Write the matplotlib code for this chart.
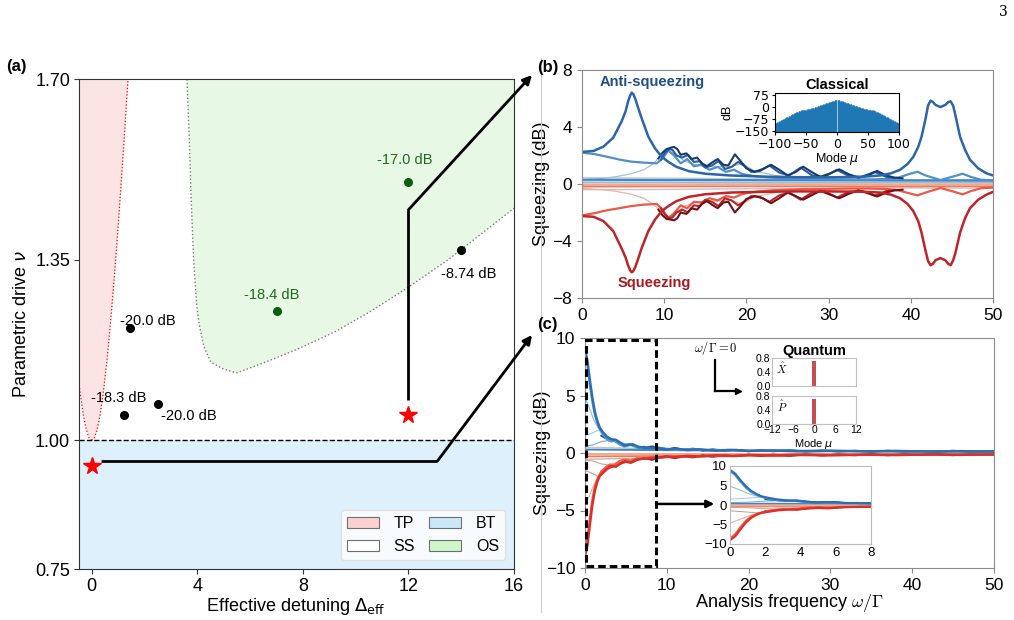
import matplotlib
matplotlib.use('Agg')
import matplotlib.pyplot as plt
from matplotlib.patches import Patch, Rectangle
from matplotlib.lines import Line2D

plt.rcParams['font.family'] = ['Liberation Sans', 'DejaVu Sans']
plt.rcParams['mathtext.fontset'] = 'dejavusans'

# ---------------- data: panel (a) ----------------
tp_nu = [1.00, 1.005, 1.02, 1.05, 1.10, 1.15, 1.20, 1.30, 1.40, 1.50, 1.60, 1.70]
tp_right = [0.0, 0.100, 0.201, 0.320, 0.458, 0.568, 0.663, 0.831, 0.980, 1.118, 1.249, 1.375]
tp_left = [0.0, -0.100, -0.201, -0.320, -0.458, -0.568, -0.663, -0.831, -0.980, -1.118, -1.249, -1.375]

os_x = [3.61, 3.70, 3.77, 3.86, 3.98, 4.09, 4.25, 4.51, 5.00, 5.51, 6.50, 7.76, 9.20, 10.50, 11.97, 13.50, 15.00, 16.00]
os_nu = [1.70, 1.58, 1.466, 1.351, 1.26, 1.220, 1.182, 1.152, 1.138, 1.131, 1.150, 1.176, 1.21, 1.248, 1.296, 1.35, 1.41, 1.45]

black_x = [1.46, 1.21, 2.52, 13.99]
black_nu = [1.218, 1.050, 1.070, 1.370]
black_lbl = ['-20.0 dB', '-18.3 dB', '-20.0 dB', '-8.74 dB']
black_lbl_x = [2.12, 1.04, 3.69, 14.27]
black_lbl_nu = [1.232, 1.082, 1.047, 1.322]

green_x = [7.01, 12.0]
green_nu = [1.250, 1.500]
green_lbl = ['-18.4 dB', '-17.0 dB']
green_lbl_x = [6.82, 11.87]
green_lbl_nu = [1.282, 1.544]

star_x = [0.0, 12.0]
star_nu = [0.950, 1.050]

conn_b_x = [12.0, 12.0]
conn_b_nu = [1.078, 1.447]
conn_c_x = [0.34, 13.1]
conn_c_nu = [0.960, 0.960]

# ---------------- data: panel (b) ----------------
b_anti_x = [0, 1.4, 2.6, 3.8, 4.8, 5.3, 5.6, 5.85, 6.05, 6.25, 6.5, 6.8, 7.26, 8.07, 8.88, 9.7, 10.5, 11.5, 13, 15,
            18, 22, 26, 30, 34, 36.3, 37.6, 38.7, 39.6, 40.3, 40.9, 41.3, 41.8, 42.1, 42.4, 42.7, 43.0, 43.6, 44.2,
            44.55, 44.85, 45.15, 45.4, 46.0, 46.6, 47.2, 48.2, 49.2, 50]
b_anti_y = [2.25, 2.32, 2.62, 3.25, 4.37, 5.1, 5.78, 6.2, 6.41, 6.3, 5.95, 5.4, 4.61, 3.32, 2.5, 1.92, 1.55, 1.2, 0.9,
            0.72, 0.6, 0.52, 0.48, 0.47, 0.5, 0.6, 0.75, 1.0, 1.4, 1.9, 2.6, 3.3, 4.6, 5.5, 5.85, 5.75, 5.55, 5.4,
            5.55, 5.75, 5.8, 5.5, 4.9, 3.3, 2.4, 1.7, 1.1, 0.75, 0.6]
b_sq_y = [-2.25, -2.3, -2.6, -3.3, -4.5, -5.15, -5.7, -6.05, -6.2, -6.1, -5.8, -5.3, -4.5, -3.3, -2.5, -1.9, -1.55,
          -1.2, -0.9, -0.72, -0.6, -0.55, -0.52, -0.52, -0.54, -0.6, -0.75, -1.0, -1.4, -1.9, -2.6, -3.4, -4.7, -5.4,
          -5.7, -5.6, -5.35, -5.2, -5.35, -5.6, -5.7, -5.35, -4.9, -3.4, -2.4, -1.7, -1.1, -0.75, -0.55]

b_anti2_x = [0, 1.5, 3, 4.5, 6, 7.5, 9.1, 9.8, 10.5, 11.2, 12.0, 12.8, 13.6, 14.5, 15.5, 16.5, 17.5, 18.5, 19.5, 21,
             23, 25, 27, 29, 31, 33, 35, 37, 38.5, 39.8, 40.8, 41.8, 43.6, 45.3, 46.3, 47.3, 48.5, 50]
b_anti2_y = [2.2, 2.1, 1.92, 1.72, 1.57, 1.5, 1.45, 1.8, 2.35, 2.0, 1.45, 1.75, 1.25, 1.35, 1.0, 1.2, 0.85, 1.0, 0.7,
             0.55, 0.45, 0.4, 0.36, 0.35, 0.33, 0.32, 0.32, 0.35, 0.45, 0.7, 0.86, 0.6, 0.28, 0.55, 0.72, 0.5, 0.3, 0.25]
b_sq2_y = [-2.2, -2.05, -1.85, -1.7, -1.55, -1.45, -1.4, -1.8, -2.4, -2.05, -1.5, -1.7, -1.25, -1.3, -1.0, -1.15,
           -0.85, -0.95, -0.7, -0.55, -0.45, -0.4, -0.36, -0.35, -0.33, -0.32, -0.32, -0.35, -0.45, -0.65, -0.8, -0.6,
           -0.28, -0.55, -0.73, -0.5, -0.3, -0.25]

b_anti3_x = [9.3, 9.8, 10.3, 10.8, 11.2, 11.6, 12.0, 12.7, 13.3, 14.0, 14.6, 15.2, 15.8, 16.5, 17.2, 17.8, 18.6, 19.3,
             20.0, 21.0, 22.0, 23.0, 24.0, 25.0, 26.0, 26.9, 27.9, 29.0, 30.2, 31.3, 32.4, 33.6, 34.8, 35.9, 37.0,
             38.0, 39.0]
b_anti3_y = [1.8, 2.2, 2.45, 2.55, 2.6, 2.45, 2.05, 2.15, 1.75, 1.85, 1.45, 1.25, 1.5, 1.75, 1.35, 1.3, 2.08, 1.6,
             1.1, 0.85, 1.05, 1.35, 1.0, 0.6, 0.85, 1.22, 0.85, 0.5, 0.75, 1.03, 0.7, 0.45, 0.6, 0.92, 0.6, 0.45, 0.4]
b_sq3_y = [-1.8, -2.2, -2.45, -2.5, -2.55, -2.4, -2.0, -2.1, -1.7, -1.8, -1.4, -1.2, -1.45, -1.7, -1.3, -1.25, -2.0,
           -1.55, -1.05, -0.85, -1.0, -1.35, -1.0, -0.6, -0.85, -1.1, -0.8, -0.48, -0.75, -1.0, -0.7, -0.45, -0.6,
           -0.88, -0.6, -0.45, -0.4]

b_anti4_x = [9.6, 10.1, 10.6, 11.0, 11.5, 12.2, 12.9, 13.6, 14.3, 15.0, 15.8, 16.6, 17.4, 18.2, 19.0, 19.8, 20.6,
             21.6, 22.8, 24.0, 25.2, 26.6, 28.0, 29.5, 31.0, 32.5, 34.0, 35.6, 37.0, 38.0]
b_anti4_y = [1.7, 2.2, 2.45, 2.4, 2.0, 1.85, 2.05, 1.55, 1.6, 1.15, 1.3, 1.6, 1.05, 1.2, 1.55, 1.25, 0.85, 0.9, 1.3,
             0.8, 0.6, 1.15, 0.6, 0.5, 1.0, 0.55, 0.5, 0.85, 0.5, 0.42]
b_sq4_y = [-1.7, -2.15, -2.4, -2.35, -2.0, -1.8, -2.0, -1.5, -1.55, -1.1, -1.25, -1.55, -1.0, -1.15, -1.5, -1.2,
           -0.85, -0.9, -1.25, -0.8, -0.6, -1.1, -0.6, -0.5, -0.95, -0.55, -0.5, -0.82, -0.5, -0.42]

b_anti5_x = [0, 2, 4, 6, 7.5, 8.5, 9.5, 10.5, 11.5, 12.5, 14, 16, 18, 19.5, 21, 24, 28, 35, 50]
b_anti5_y = [0.3, 0.38, 0.5, 0.72, 1.0, 1.35, 1.9, 2.35, 2.05, 1.6, 1.3, 1.25, 1.2, 1.45, 0.9, 0.55, 0.35, 0.25, 0.18]
b_sq5_y = [-0.3, -0.38, -0.5, -0.72, -1.0, -1.35, -1.85, -2.3, -2.0, -1.55, -1.25, -1.2, -1.15, -1.4, -0.9, -0.55,
           -0.35, -0.25, -0.18]

b_flat_x = [0, 10, 20, 30, 40, 50]
b_anti_flat1 = [0.3, 0.28, 0.27, 0.26, 0.25, 0.25]
b_anti_flat2 = [0.12, 0.11, 0.1, 0.1, 0.1, 0.1]
b_grey_flat1 = [0.45, 0.42, 0.36, 0.32, 0.3, 0.3]
b_sq_flat1 = [-0.05, -0.05, -0.04, -0.04, -0.04, -0.04]
b_sq_flat2 = [-0.18, -0.17, -0.16, -0.15, -0.15, -0.15]
b_grey_flat2 = [-0.4, -0.38, -0.33, -0.3, -0.28, -0.28]

# classical inset (mode spectrum, dB)
cl_modes_neg = list(range(-100, 0))
cl_vals_neg = [-106, -103, -101, -99, -97, -95, -93, -91, -89, -87,
               -85, -83, -80, -78, -76, -74, -72, -70, -67, -65,
               -63, -61, -59, -57, -55, -53, -51, -49, -47, -45,
               -43, -41, -39, -37, -35, -33, -31, -30, -28, -26,
               -70, -24, -23, -23, -22, -22, -21, -21, -20, -20,
               -19, -18, -17, -16, -15, -14, -13, -12, -11, -10,
               -40, -8, -7, -5, -4, -3, -1, 0, 1, 3,
               4, 5, 7, 8, 9, 11, 12, 13, 15, 16,
               17, 19, 20, 21, 23, 24, 25, 27, 28, 29,
               31, 32, 33, 35, 36, 37, 39, 40, 42, 44]
cl_modes_pos = list(range(1, 101))
cl_vals_pos = [44, 42, 41, 39, 38, 37, 35, 34, 33, 31,
               30, 29, 27, 26, 25, 23, 22, 21, 19, 18,
               17, 15, 14, 13, 11, 10, 9, 7, 6, 5,
               3, 2, 1, 0, -2, -3, -4, -40, -7, -8,
               -9, -11, -12, -13, -14, -15, -16, -17, -18, -19,
               -20, -20, -21, -21, -22, -60, -22, -23, -23, -24,
               -26, -28, -30, -31, -33, -35, -37, -39, -41, -43,
               -45, -47, -49, -51, -53, -55, -57, -59, -61, -63,
               -65, -67, -70, -72, -74, -76, -78, -80, -83, -85,
               -87, -89, -91, -93, -95, -97, -99, -101, -103, -106]
cl_floor = -157

# ---------------- data: panel (c) ----------------
c_anti1_x = [0, 0.3, 0.6, 0.9, 1.2, 1.5, 1.8, 2.2, 2.7, 3.2, 3.7, 4.2, 4.8, 5.4, 6.0, 6.6, 7.2, 8.0, 9.0, 10, 11,
             12.5, 14, 16, 18, 20, 23, 26, 30, 34, 38, 42, 46, 50]
c_anti1_y = [9.0, 8.0, 6.3, 4.8, 3.6, 2.8, 2.2, 1.8, 1.4, 1.2, 1.15, 0.95, 0.65, 0.75, 0.7, 0.5, 0.5, 0.4, 0.45, 0.3,
             0.38, 0.25, 0.32, 0.2, 0.27, 0.18, 0.22, 0.15, 0.2, 0.14, 0.18, 0.12, 0.16, 0.12]
c_sq1_x = [0, 0.3, 0.6, 0.9, 1.2, 1.5, 1.8, 2.2, 2.7, 3.2, 3.8, 4.4, 5.0, 5.6, 6.2, 7.0, 8.0, 9.0, 10, 11, 12.5, 14,
           16, 18, 20, 23, 26, 30, 34, 38, 42, 46, 50]
c_sq1_y = [-9.0, -8.0, -6.2, -4.5, -3.3, -2.5, -2.0, -1.7, -1.35, -1.2, -1.15, -0.9, -0.75, -0.85, -0.6, -0.5, -0.45,
           -0.4, -0.3, -0.36, -0.25, -0.3, -0.2, -0.26, -0.18, -0.22, -0.15, -0.2, -0.14, -0.18, -0.12, -0.16, -0.12]

c_anti2_x = [0, 0.3, 0.6, 0.9, 1.2, 1.6, 2.0, 2.5, 3.0, 3.6, 4.2, 4.8, 5.6, 6.4, 7.2, 8.0, 9.5, 11, 13, 15, 17.5, 20,
             24, 28, 33, 38, 44, 50]
c_anti2_y = [8.7, 7.6, 5.9, 4.4, 3.3, 2.4, 1.8, 1.35, 1.05, 1.05, 0.75, 0.55, 0.7, 0.45, 0.55, 0.35, 0.42, 0.28, 0.33,
             0.22, 0.28, 0.18, 0.22, 0.15, 0.18, 0.13, 0.15, 0.12]
c_sq2_y = [-8.6, -7.4, -5.6, -4.0, -2.9, -2.1, -1.6, -1.25, -1.0, -1.0, -0.7, -0.55, -0.65, -0.45, -0.5, -0.35, -0.4,
           -0.28, -0.3, -0.22, -0.26, -0.18, -0.2, -0.15, -0.17, -0.13, -0.14, -0.12]

c_anti3_x = [2.0, 2.6, 3.2, 3.8, 4.4, 5.0, 5.8, 6.6, 7.4, 8.2, 9.0, 10.0, 11.0, 12.0, 13.2, 14.4, 15.6, 17, 18.5, 20,
             21.5, 23, 25, 27, 29, 31, 33, 35, 37, 39, 41, 43, 45, 47, 50]
c_anti3_y = [1.5, 1.25, 1.0, 1.15, 0.8, 0.62, 0.78, 0.5, 0.45, 0.58, 0.38, 0.3, 0.45, 0.28, 0.38, 0.2, 0.32, 0.2,
             0.28, 0.15, 0.25, 0.15, 0.25, 0.12, 0.22, 0.12, 0.2, 0.1, 0.2, 0.1, 0.18, 0.1, 0.2, 0.1, 0.15]
c_sq3_y = [-1.6, -1.3, -1.05, -1.2, -0.85, -0.65, -0.8, -0.52, -0.45, -0.6, -0.38, -0.3, -0.45, -0.28, -0.38, -0.2,
           -0.32, -0.2, -0.28, -0.15, -0.25, -0.15, -0.25, -0.12, -0.22, -0.12, -0.2, -0.1, -0.2, -0.1, -0.18, -0.1,
           -0.2, -0.1, -0.15]

c_thin1_x = [0, 0.5, 1.0, 1.5, 2.0, 3.0, 4.0, 6.0, 8.0, 12, 20, 35, 50]
c_anti4_y = [4.8, 4.0, 3.0, 2.3, 1.8, 1.2, 0.9, 0.6, 0.4, 0.3, 0.2, 0.15, 0.12]
c_sq4_y = [-4.6, -3.8, -2.9, -2.2, -1.75, -1.15, -0.85, -0.55, -0.4, -0.3, -0.2, -0.15, -0.12]
c_thin2_x = [0, 0.8, 1.5, 2.0, 2.8, 3.5, 5, 8, 15, 30, 50]
c_anti5_y = [1.5, 1.7, 1.95, 1.9, 1.4, 1.0, 0.7, 0.4, 0.25, 0.15, 0.1]
c_sq5_y = [-1.5, -1.75, -2.0, -1.95, -1.45, -1.05, -0.7, -0.4, -0.25, -0.15, -0.1]
c_thin3_x = [0, 1, 2, 3, 4, 5, 7, 10, 20, 50]
c_anti6_y = [0.6, 0.7, 1.0, 1.1, 1.0, 0.8, 0.55, 0.35, 0.2, 0.1]
c_sq6_y = [-0.6, -0.7, -0.95, -1.05, -0.95, -0.8, -0.55, -0.35, -0.2, -0.1]

c_flat_x = [0, 10, 20, 30, 40, 50]
c_anti_flat = [0.3, 0.25, 0.2, 0.18, 0.16, 0.15]
c_grey_flat = [0.5, 0.35, 0.25, 0.2, 0.18, 0.18]
c_sq_flat1 = [-0.1, -0.1, -0.08, -0.08, -0.08, -0.08]
c_sq_flat2 = [-0.3, -0.25, -0.2, -0.18, -0.16, -0.15]
c_grey_flat2 = [-0.55, -0.4, -0.28, -0.22, -0.2, -0.2]

# quantum inset
q_modes = [0]
q_x_vals = [0.72]
q_p_vals = [0.72]

# zoom box in (c)
zoom_box_x0, zoom_box_y0, zoom_box_w, zoom_box_h = 0.1, -9.85, 8.6, 19.7
zoom_arrow_x = [8.9, 15.8]
zoom_arrow_y = [-4.43, -4.43]

# ---------------- figure ----------------
W, H = 1014, 620


def fx(px):
    return px / W


def fy(py):
    return 1 - py / H


fig = plt.figure(figsize=(W / 100, H / 100), dpi=100)

# ===== panel (a) =====
ax = fig.add_axes([fx(78.5), fy(569.3), 435.5 / W, 490 / H])
ax.set_xlim(-0.5, 16)
ax.set_ylim(0.75, 1.70)
ax.axhspan(0.75, 1.0, color='#ddf0fb', lw=0, zorder=0)
ax.fill_betweenx(tp_nu, tp_left, tp_right, color='#fde4e4', lw=0, zorder=0)
ax.plot(tp_right, tp_nu, ':', color='red', lw=0.9, zorder=1)
ax.plot(tp_left, tp_nu, ':', color='red', lw=0.9, zorder=1)
ax.fill(os_x + [16.0], os_nu + [1.70], color='#e7f9e5', lw=0, zorder=0)
ax.plot(os_x, os_nu, ':', color='#7a7a7a', lw=1.0, zorder=1)
ax.axhline(1.0, color='k', ls='--', lw=1.0, zorder=2)

ax.plot(black_x, black_nu, 'o', color='k', ms=5.5, zorder=4)
for t, x, y in zip(black_lbl, black_lbl_x, black_lbl_nu):
    ax.text(x, y, t, ha='center', va='center', fontsize=10.5, color='k')
ax.plot(green_x, green_nu, 'o', color='#0d5e0d', ms=5.5, zorder=4)
for t, x, y in zip(green_lbl, green_lbl_x, green_lbl_nu):
    ax.text(x, y, t, ha='center', va='center', fontsize=10.5, color='#1d6b1d')

ax.plot(conn_b_x, conn_b_nu, color='k', lw=2, zorder=5, solid_capstyle='butt')
ax.plot(conn_c_x, conn_c_nu, color='k', lw=2, zorder=5, solid_capstyle='butt')
ax.annotate('', xy=(fx(532), fy(75)), xycoords='figure fraction',
            xytext=(conn_b_x[-1], conn_b_nu[-1]), textcoords='data',
            arrowprops=dict(arrowstyle='-|>', color='k', lw=2, mutation_scale=13,
                            shrinkA=0, shrinkB=0), annotation_clip=False, zorder=5)
ax.annotate('', xy=(fx(532), fy(335)), xycoords='figure fraction',
            xytext=(conn_c_x[-1], conn_c_nu[-1]), textcoords='data',
            arrowprops=dict(arrowstyle='-|>', color='k', lw=2, mutation_scale=13,
                            shrinkA=0, shrinkB=0), annotation_clip=False, zorder=5)
ax.plot(star_x, star_nu, '*', color='red', ms=13, clip_on=False, zorder=6)

ax.set_xticks([0, 4, 8, 12, 16])
ax.set_yticks([0.75, 1.00, 1.35, 1.70])
ax.set_yticklabels(['0.75', '1.00', '1.35', '1.70'])
ax.tick_params(labelsize=13, length=3.5, pad=2.5, color='#333333')
for s in ax.spines.values():
    s.set_color('#333333')
ax.set_xlabel(r'Effective detuning $\Delta_{\rm eff}$', fontsize=13)
ax.xaxis.set_label_coords(0.5, -0.055)
ax.set_ylabel(r'Parametric drive $\nu$', fontsize=13)
ax.yaxis.set_label_coords(-0.112, 0.5)

leg_handles = [Patch(fc='#fcd0d0', ec='#6f6f6f', lw=0.8, label='TP'),
               Patch(fc='white', ec='#6f6f6f', lw=0.8, label='SS'),
               Patch(fc='#cce8f8', ec='#6f6f6f', lw=0.8, label='BT'),
               Patch(fc='#cff5cb', ec='#6f6f6f', lw=0.8, label='OS')]
leg = ax.legend(handles=leg_handles, ncol=2, loc='lower right', bbox_to_anchor=(0.98, 0.018),
                borderaxespad=0, fontsize=11.5, handlelength=2.0, handletextpad=0.9,
                columnspacing=0.9, frameon=True, fancybox=True, framealpha=0.8)
leg.get_frame().set_edgecolor('#dddddd')

# ===== panel (b) =====
axb = fig.add_axes([fx(582), fy(298), 411 / W, 228 / H])
axb.set_xlim(0, 50)
axb.set_ylim(-8, 8)
axb.plot(b_flat_x, b_grey_flat1, color='#c8c8c8', lw=1.0)
axb.plot(b_flat_x, b_grey_flat2, color='#d3bcbc', lw=1.0)
axb.plot(b_anti5_x, b_anti5_y, color='#a9bfd6', lw=0.9)
axb.plot(b_anti5_x, b_sq5_y, color='#e6b4aa', lw=0.9)
axb.plot(b_flat_x, b_anti_flat2, color='#8fbfe0', lw=1.3)
axb.plot(b_flat_x, b_anti_flat1, color='#3d87c9', lw=1.6)
axb.plot(b_flat_x, b_sq_flat2, color='#ec7a60', lw=1.3)
axb.plot(b_flat_x, b_sq_flat1, color='#f5a88a', lw=1.8)
axb.plot(b_anti2_x, b_anti2_y, color='#4f90cc', lw=1.6)
axb.plot(b_anti2_x, b_sq2_y, color='#ea5a46', lw=1.6)
axb.plot(b_anti4_x, b_anti4_y, color='#2a5d9c', lw=1.5)
axb.plot(b_anti4_x, b_sq4_y, color='#b3262a', lw=1.5)
axb.plot(b_anti3_x, b_anti3_y, color='#173a70', lw=1.5)
axb.plot(b_anti3_x, b_sq3_y, color='#731016', lw=1.5)
axb.plot(b_anti_x, b_anti_y, color='#2b67a8', lw=1.8)
axb.plot(b_anti_x, b_sq_y, color='#bf2429', lw=1.8)
axb.text(8.6, 7.15, 'Anti-squeezing', color='#1f4f86', fontsize=10.5, fontweight='bold',
         ha='center', va='center')
axb.text(8.8, -6.95, 'Squeezing', color='#a8191f', fontsize=10.5, fontweight='bold',
         ha='center', va='center')
axb.set_xticks([0, 10, 20, 30, 40, 50])
axb.set_yticks([-8, -4, 0, 4, 8])
axb.tick_params(labelsize=12.5, length=3.5, color='#888888')
for s in axb.spines.values():
    s.set_color('#8c8c8c')
axb.set_ylabel('Squeezing (dB)', fontsize=13)
axb.yaxis.set_label_coords(-0.078, 0.5)

# classical inset
axcl = fig.add_axes([fx(775), fy(132), 124 / W, 39 / H])
axcl.vlines(cl_modes_neg, cl_floor, cl_vals_neg, colors='#1f77b4', lw=0.9)
axcl.vlines(cl_modes_pos, cl_floor, cl_vals_pos, colors='#1f77b4', lw=0.9)
axcl.set_xlim(-100, 100)
axcl.set_ylim(cl_floor, 85)
axcl.set_xticks([-100, -50, 0, 50, 100])
axcl.set_yticks([75, 0, -75, -150])
axcl.tick_params(labelsize=9, length=2.5, pad=1.5)
for lab in axcl.get_xticklabels() + axcl.get_yticklabels():
    lab.set_family('DejaVu Sans')
axcl.set_xlabel(r'Mode $\mu$', fontsize=9, labelpad=0)
axcl.set_ylabel('dB', fontsize=9, labelpad=1)
axcl.set_title('Classical', fontsize=10.5, fontweight='bold', pad=3)
axcl.patch.set_alpha(0.0)

# ===== panel (c) =====
axc = fig.add_axes([fx(585), fy(568), 409 / W, 230 / H])
axz = fig.add_axes([fx(730), fy(544), 141 / W, 78 / H])
c_curves = [
    (c_flat_x, c_grey_flat, '#c4c4c4', 1.0),
    (c_flat_x, c_grey_flat2, '#d0b2ac', 1.0),
    (c_thin1_x, c_anti4_y, '#94b6d4', 0.8),
    (c_thin1_x, c_sq4_y, '#e2b0a8', 0.8),
    (c_thin2_x, c_anti5_y, '#a9c6de', 0.8),
    (c_thin2_x, c_sq5_y, '#c99c93', 0.8),
    (c_thin3_x, c_anti6_y, '#7ea9cf', 0.8),
    (c_thin3_x, c_sq6_y, '#d3a39b', 0.8),
    (c_flat_x, c_anti_flat, '#3d87c9', 1.4),
    (c_flat_x, c_sq_flat2, '#ec7a60', 1.3),
    (c_flat_x, c_sq_flat1, '#f5a88a', 1.6),
    (c_anti3_x, c_anti3_y, '#1c4f8f', 1.4),
    (c_anti3_x, c_sq3_y, '#8b1a1a', 1.4),
    (c_anti2_x, c_anti2_y, '#5a9fd6', 1.5),
    (c_anti2_x, c_sq2_y, '#f0604a', 1.5),
    (c_anti1_x, c_anti1_y, '#2a6fb3', 1.8),
    (c_sq1_x, c_sq1_y, '#dc2f2a', 1.8),
]
for xs, ys, col, lw in c_curves:
    axc.plot(xs, ys, color=col, lw=lw)
    axz.plot(xs, ys, color=col, lw=lw * 0.9)
axc.set_xlim(0, 50)
axc.set_ylim(-10, 10)
axc.set_xticks([0, 10, 20, 30, 40, 50])
axc.set_yticks([-10, -5, 0, 5, 10])
axc.tick_params(labelsize=12.5, length=3.5, color='#888888')
for s in axc.spines.values():
    s.set_color('#8c8c8c')
axc.set_ylabel('Squeezing (dB)', fontsize=13)
axc.yaxis.set_label_coords(-0.083, 0.5)
axc.set_xlabel(r'Analysis frequency $\omega/\Gamma$', fontsize=13, math_fontfamily='cm')
axc.xaxis.set_label_coords(0.5, -0.104)
axc.add_patch(Rectangle((zoom_box_x0, zoom_box_y0), zoom_box_w, zoom_box_h, fill=False, ec='k',
                        lw=2.2, ls=(0, (2.5, 1.3)), clip_on=False, zorder=6))
axc.annotate('', xy=(zoom_arrow_x[1], zoom_arrow_y[1]), xytext=(zoom_arrow_x[0], zoom_arrow_y[0]),
             arrowprops=dict(arrowstyle='-|>', color='k', lw=1.8, mutation_scale=11,
                             shrinkA=0, shrinkB=0), zorder=6)

axz.set_xlim(0, 8)
axz.set_ylim(-10, 10)
axz.set_xticks([0, 2, 4, 6, 8])
axz.set_yticks([-10, -5, 0, 5, 10])
axz.tick_params(labelsize=9.5, length=0, pad=2)
for s in axz.spines.values():
    s.set_color('#bbbbbb')

# quantum insets
axq1 = fig.add_axes([fx(772), fy(386), 84 / W, 28 / H])
axq2 = fig.add_axes([fx(772), fy(424), 84 / W, 28 / H])
axq1.bar(q_modes, q_x_vals, width=1.2, color='#c44e52')
axq2.bar(q_modes, q_p_vals, width=1.2, color='#c44e52')
for a, lab in ((axq1, r'$\hat{X}$'), (axq2, r'$\hat{P}$')):
    a.set_xlim(-12, 12)
    a.set_ylim(0, 0.8)
    a.set_yticks([0.0, 0.4, 0.8])
    a.set_yticklabels(['0.0', '0.4', '0.8'])
    a.tick_params(labelsize=7.5, length=0, pad=1)
    for s in a.spines.values():
        s.set_color('#c0c0c0')
    a.text(0.12, 0.64, lab, transform=a.transAxes, fontsize=8, ha='center', va='center',
           math_fontfamily='cm')
axq1.set_xticks([])
axq2.set_xticks([-12, -6, 0, 6, 12])
axq2.set_xlabel(r'Mode $\mu$', fontsize=8, labelpad=1)
axq1.set_title('Quantum', fontsize=10.5, fontweight='bold', pad=2)

fig.text(fx(716), fy(348), r'$\omega/\Gamma = 0$', fontsize=9, ha='center', va='center',
         math_fontfamily='cm')
fig.add_artist(Line2D([fx(715), fx(715)], [fy(360), fy(391)], color='k', lw=1.6))
fig.add_artist(Line2D([fx(715), fx(735)], [fy(391), fy(391)], color='k', lw=1.6))
fig.add_artist(Line2D([fx(738)], [fy(391)], marker='>', color='k', ms=4.5))

# separators & labels
fig.add_artist(Line2D([fx(541), fx(541)], [fy(58), fy(612)], color='#cccccc', lw=0.8))
fig.text(fx(16.5), fy(66), '(a)', fontsize=12, fontweight='bold', ha='center', va='center')
fig.text(fx(547.5), fy(67.5), '(b)', fontsize=12, fontweight='bold', ha='center', va='center')
fig.text(fx(547.5), fy(324), '(c)', fontsize=12, fontweight='bold', ha='center', va='center')
fig.text(fx(1003), fy(12), '3', fontsize=10, family='DejaVu Serif', ha='center', va='center')

fig.savefig('out.png', dpi=100)
